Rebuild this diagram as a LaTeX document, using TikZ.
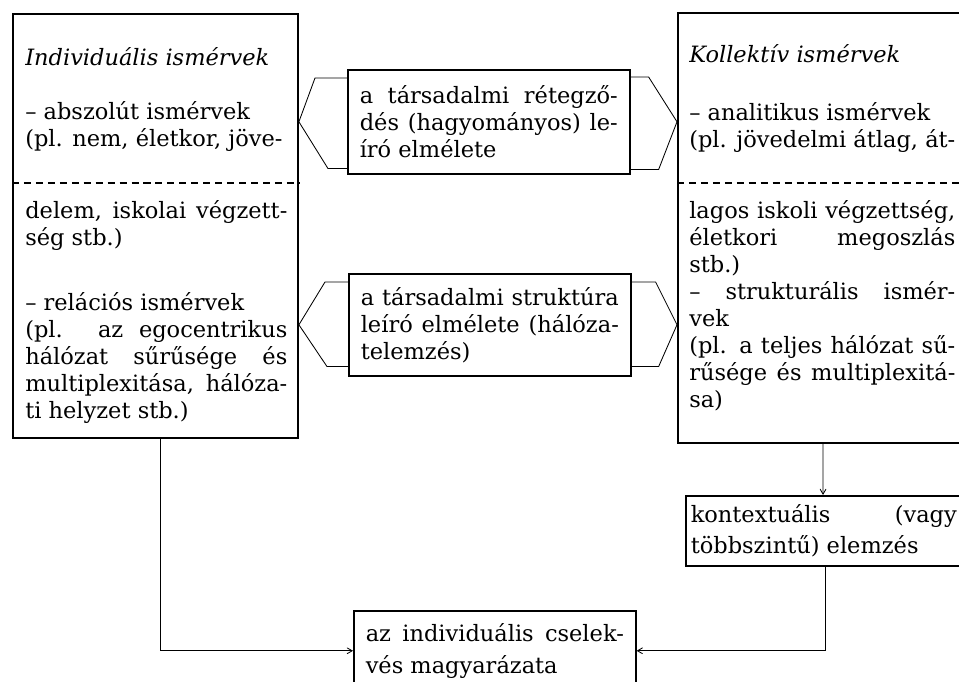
\documentclass[tikz,border=0pt]{standalone}
\usepackage{fontspec}
\setmainfont{DejaVu Serif}
\usetikzlibrary{arrows}

\tikzset{
  bigbox/.style={draw, line width=1.3pt, inner sep=0pt, anchor=north west},
  midbox/.style={draw, line width=1.1pt, anchor=north west, align=justify,
    text width=6.45cm, inner xsep=0.3cm, inner ysep=0pt,
    font=\fontsize{16}{19.2}\selectfont},
  txt/.style={anchor=north west, inner sep=0pt, align=justify, text width=#1,
    font=\fontsize{16}{19.2}\selectfont},
  link/.style={line width=0.6pt},
  cut/.style={dash pattern=on 5pt off 3.5pt, line width=0.9pt}
}

\begin{document}
\begin{tikzpicture}[x=0.025cm, y=-0.025cm, >=angle 60]
\useasboundingbox (0,0) rectangle (959,682);
\clip (0,0) rectangle (959,682);

% the two large boxes
\node[bigbox, minimum width=7.125cm, minimum height=10.6cm] (indiv) at (12,13) {};
\node[bigbox, minimum width=7.6cm, minimum height=10.75cm] (koll) at (677,12) {};
\draw[cut] ([yshift=-4.25cm]indiv.north west) -- ([yshift=-4.25cm]indiv.north east);
\draw[cut] ([yshift=-4.275cm]koll.north west) -- ([yshift=-4.275cm]koll.north east);

\node[txt=6.55cm] (indivtop) at ([shift={(13,34)}]indiv.north west)
  {\textit{Individuális ismérvek}\\[19.2pt]
   – abszolút ismérvek\\
   (pl. nem, életkor, jöve-};
\node[txt=6.55cm] (indivbot) at ([shift={(13,187)}]indiv.north west)
  {delem, iskolai végzett-\linebreak ség stb.)\\[27pt]
   – relációs ismérvek\\
   (pl. az egocentrikus\linebreak hálózat sűrűsége és\linebreak
   multiplexitása, hálóza-\linebreak ti helyzet stb.)};

\node[txt=6.65cm] (kolltop) at ([shift={(12,32)}]koll.north west)
  {\textit{Kollektív ismérvek}\\[22pt]
   – analitikus ismérvek\\
   (pl. jövedelmi átlag, át-};
\node[txt=6.65cm] (kollbot) at ([shift={(12,188)}]koll.north west)
  {lagos iskoli végzettség,\linebreak életkori megoszlás\linebreak stb.)\\
   – strukturális ismér-\linebreak vek\\
   (pl. a teljes hálózat sű-\linebreak rűsége és multiplexitá-\linebreak sa)};

% middle boxes
\node[midbox, minimum height=2.6cm] (retegz) at (347,69)
  {a társadalmi rétegző-\linebreak dés (hagyományos) le-\linebreak író elmélete};
\node[midbox, minimum height=2.55cm] (strukt) at (348,273)
  {a társadalmi struktúra\linebreak leíró elmélete (hálóza-\linebreak telemzés)};

% lower boxes
\node[midbox, text width=6.65cm, inner xsep=0.125cm, minimum height=1.75cm,
  font=\fontsize{16}{21.5}\selectfont] (kontext) at (685,495)
  {kontextuális (vagy\linebreak többszintű) elemzés};
\node[midbox, minimum height=2cm, font=\fontsize{16}{23}\selectfont] (magy) at (353,610)
  {az individuális cselek-\linebreak vés magyarázata};

% double chevrons
\draw[link] ([shift={(0,9)}]retegz.north west) -- ++(-32,0) -- (indiv.east |- retegz.center)
  -- ([shift={(-19,-6)}]retegz.south west) -- ([shift={(0,-6)}]retegz.south west);
\draw[link] ([shift={(0,8)}]retegz.north east) -- ++(18,0) -- (koll.west |- retegz.center)
  -- ([shift={(28,-5)}]retegz.south east) -- ([shift={(0,-5)}]retegz.south east);
\draw[link] ([shift={(0,9)}]strukt.north west) -- ++(-23,0) -- (indiv.east |- strukt.center)
  -- ([shift={(-21,-10)}]strukt.south west) -- ([shift={(0,-10)}]strukt.south west);
\draw[link] ([shift={(0,9)}]strukt.north east) -- ++(24,0) -- (koll.west |- strukt.center)
  -- ([shift={(27,-10)}]strukt.south east) -- ([shift={(0,-10)}]strukt.south east);

% arrows
\draw[link,->] ([xshift=3.65cm]koll.south west) -- ([xshift=3.45cm]kontext.north west);
\draw[link,->] ([xshift=3.5cm]kontext.south west) |- (magy.east);
\draw[link,->] ([xshift=3.7cm]indiv.south west) |- (magy.west);
\end{tikzpicture}
\end{document}
